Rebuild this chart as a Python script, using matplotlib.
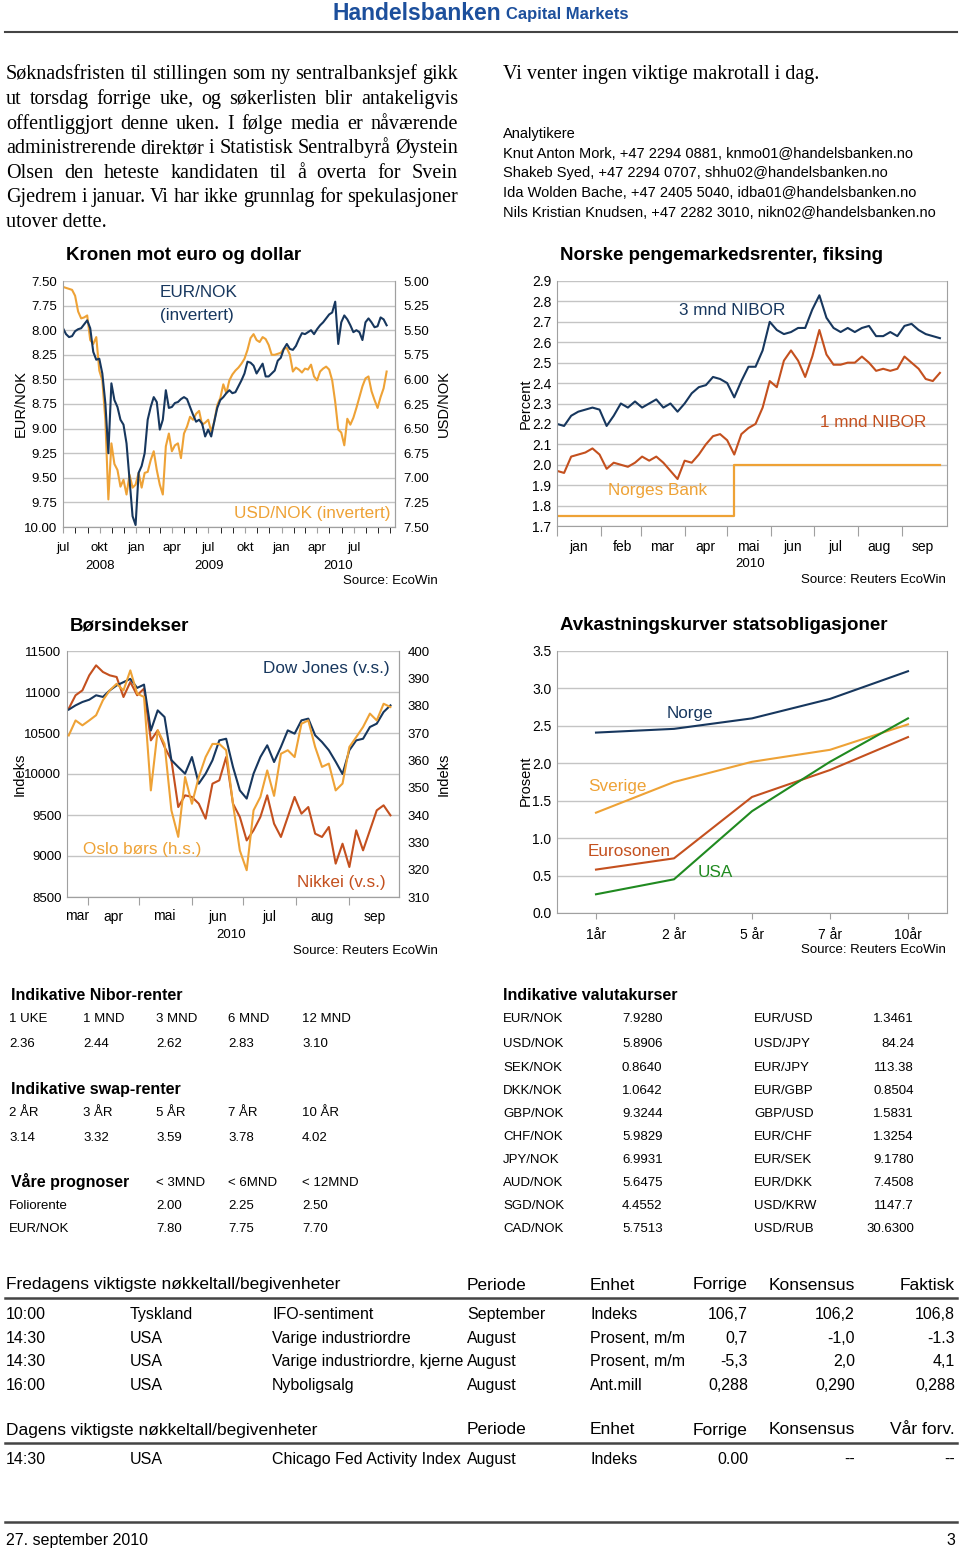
import numpy as np
import pandas as pd
import matplotlib
matplotlib.use('Agg')
import matplotlib.pyplot as plt
from matplotlib.lines import Line2D
from matplotlib.ticker import FormatStrFormatter

W, H = 960, 1550
SANS = 'Liberation Sans'
SERIF = 'Liberation Serif'
plt.rcParams['font.family'] = [SANS, 'DejaVu Sans']

NAVY = '#17375e'
ORANGE = '#eea236'
RED = '#c4501e'
GREEN = '#208a20'
BLUE = '#1c4f9c'
GRID = '#c4c4c4'
SPINE = '#a0a0a0'

# ---- chart 1: Kronen mot euro og dollar (weekly readings, jul 2008 - sep 2010) ----
eur_nok = [7.98, 8.04, 8.07, 8.06, 8.01, 7.99, 7.98, 7.94, 7.90, 7.98,
           8.22, 8.30, 8.29, 8.44, 8.74, 9.25, 8.54, 8.71, 8.78, 8.91,
           8.96, 9.15, 9.52, 9.89, 9.98, 9.45, 9.38, 9.25, 8.91, 8.78,
           8.68, 8.73, 9.01, 8.91, 8.61, 8.79, 8.78, 8.74, 8.73, 8.70,
           8.68, 8.70, 8.78, 8.86, 8.93, 8.91, 8.95, 9.08, 9.01, 9.08,
           8.93, 8.79, 8.71, 8.68, 8.64, 8.61, 8.64, 8.63, 8.57, 8.51,
           8.44, 8.32, 8.33, 8.36, 8.44, 8.39, 8.34, 8.47, 8.47, 8.44,
           8.41, 8.31, 8.28, 8.19, 8.14, 8.19, 8.20, 8.16, 8.09, 8.03,
           8.04, 8.02, 8.00, 8.04, 7.99, 7.95, 7.92, 7.88, 7.84, 7.82,
           7.71, 8.14, 7.92, 7.85, 7.89, 7.95, 8.02, 8.00, 8.02, 8.10,
           7.92, 7.88, 7.92, 7.97, 7.96, 7.87, 7.89, 7.95]
usd_nok = [5.06, 5.07, 5.08, 5.09, 5.15, 5.31, 5.38, 5.37, 5.35, 5.60,
           5.64, 5.57, 5.91, 6.01, 6.41, 7.22, 6.65, 6.86, 6.92, 7.09,
           7.02, 7.17, 6.97, 7.10, 7.07, 6.95, 7.10, 6.95, 6.94, 6.82,
           6.73, 6.92, 7.07, 7.17, 6.68, 6.55, 6.73, 6.67, 6.65, 6.80,
           6.55, 6.48, 6.38, 6.41, 6.35, 6.32, 6.46, 6.44, 6.41, 6.53,
           6.43, 6.26, 6.19, 6.05, 6.14, 6.01, 5.95, 5.91, 5.88, 5.84,
           5.79, 5.70, 5.58, 5.54, 5.60, 5.62, 5.57, 5.59, 5.65, 5.75,
           5.75, 5.74, 5.73, 5.69, 5.68, 5.75, 5.92, 5.88, 5.90, 5.93,
           5.89, 5.90, 5.85, 5.97, 6.01, 5.92, 5.89, 5.87, 5.90, 6.01,
           6.23, 6.51, 6.54, 6.67, 6.40, 6.46, 6.39, 6.29, 6.18, 6.07,
           5.99, 5.97, 6.12, 6.21, 6.29, 6.18, 6.09, 5.92]
c1_ticks = ['2008-07-01', '2008-10-01', '2009-01-01', '2009-04-01', '2009-07-01',
            '2009-10-01', '2010-01-01', '2010-04-01', '2010-07-01']
c1_labels = ['jul', 'okt', 'jan', 'apr', 'jul', 'okt', 'jan', 'apr', 'jul']

# ---- chart 2: Norske pengemarkedsrenter (every 5 days from 1 Jan 2010) ----
nibor_3m = [2.20, 2.19, 2.24, 2.26, 2.27, 2.28, 2.27, 2.19, 2.24, 2.30,
            2.28, 2.31, 2.28, 2.30, 2.32, 2.28, 2.30, 2.26, 2.30, 2.35,
            2.38, 2.39, 2.43, 2.42, 2.40, 2.33, 2.41, 2.48, 2.48, 2.56,
            2.70, 2.66, 2.64, 2.65, 2.67, 2.67, 2.76, 2.83, 2.72, 2.67,
            2.65, 2.67, 2.65, 2.67, 2.68, 2.63, 2.63, 2.65, 2.63, 2.68,
            2.69, 2.66, 2.64, 2.63, 2.62]
nibor_1m = [1.97, 1.96, 2.04, 2.05, 2.06, 2.08, 2.05, 1.98, 2.01, 2.00,
            1.99, 2.01, 2.04, 2.02, 2.04, 2.01, 1.97, 1.93, 2.02, 2.01,
            2.05, 2.10, 2.14, 2.15, 2.12, 2.05, 2.15, 2.18, 2.20, 2.28,
            2.41, 2.38, 2.51, 2.56, 2.51, 2.43, 2.53, 2.66, 2.54, 2.49,
            2.49, 2.50, 2.50, 2.53, 2.50, 2.46, 2.47, 2.46, 2.47, 2.53,
            2.50, 2.47, 2.42, 2.41, 2.45]
nb_dates = ['2010-01-01', '2010-05-06', '2010-09-28']
nb_rate = [1.75, 2.00, 2.00]
months_2010 = ['jan', 'feb', 'mar', 'apr', 'mai', 'jun', 'jul', 'aug', 'sep']

# ---- chart 3: Børsindekser (every 4 days from 21 Mar 2010) ----
dow = [10785, 10837, 10878, 10906, 10960, 10940, 11020, 11080, 11120, 11160,
       11050, 11090, 10530, 10776, 10695, 10170, 10085, 10004, 10207, 9882,
       10004, 10167, 10410, 10430, 10085, 9800, 9700, 10004, 10207, 10350,
       10146, 10330, 10532, 10492, 10654, 10675, 10472, 10390, 10290, 10150,
       10000, 10290, 10410, 10430, 10573, 10614, 10756, 10837]
oslo = [369.1, 374.6, 372.8, 374.6, 376.5, 382.0, 385.6, 388.0, 385.6, 392.9,
        384.4, 383.2, 349.0, 371.0, 366.0, 341.7, 332.0, 353.9, 344.1, 353.9,
        361.2, 366.0, 366.0, 363.7, 344.0, 327.0, 319.8, 341.7, 346.6, 356.3,
        347.0, 362.4, 363.7, 361.2, 373.4, 374.6, 364.9, 357.6, 358.8, 349.0,
        351.5, 364.9, 368.5, 372.2, 377.1, 374.6, 380.7, 379.5]
nikkei = [10797, 10960, 11020, 11203, 11325, 11244, 11203, 11183, 10939, 11122,
          10960, 11041, 10410, 10532, 10330, 10170, 9597, 9740, 9720, 9638,
          9455, 9882, 9923, 10207, 9638, 9476, 9190, 9313, 9476, 9740,
          9394, 9232, 9476, 9720, 9516, 9597, 9272, 9232, 9354, 8907,
          9150, 8866, 9313, 9069, 9313, 9557, 9618, 9496]
months_c3 = ['mar', 'apr', 'mai', 'jun', 'jul', 'aug', 'sep']

# ---- chart 4: Avkastningskurver ----
maturities = ['1år', '2 år', '5 år', '7 år', '10år']
norge = [2.41, 2.46, 2.60, 2.86, 3.23]
sverige = [1.34, 1.75, 2.02, 2.18, 2.52]
eurosonen = [0.58, 0.73, 1.55, 1.91, 2.35]
usa = [0.25, 0.45, 1.36, 2.02, 2.60]

# ---- tables ----
nibor_terms = ['1 UKE', '1 MND', '3 MND', '6 MND', '12 MND']
nibor_rates = ['2.36', '2.44', '2.62', '2.83', '3.10']
swap_terms = ['2 ÅR', '3 ÅR', '5 ÅR', '7 ÅR', '10 ÅR']
swap_rates = ['3.14', '3.32', '3.59', '3.78', '4.02']
prog_horizon = ['< 3MND', '< 6MND', '< 12MND']
prog_folio = ['2.00', '2.25', '2.50']
prog_eurnok = ['7.80', '7.75', '7.70']
fx_a = ['EUR/NOK', 'USD/NOK', 'SEK/NOK', 'DKK/NOK', 'GBP/NOK',
        'CHF/NOK', 'JPY/NOK', 'AUD/NOK', 'SGD/NOK', 'CAD/NOK']
fx_a_val = ['7.9280', '5.8906', '0.8640', '1.0642', '9.3244',
            '5.9829', '6.9931', '5.6475', '4.4552', '5.7513']
fx_b = ['EUR/USD', 'USD/JPY', 'EUR/JPY', 'EUR/GBP', 'GBP/USD',
        'EUR/CHF', 'EUR/SEK', 'EUR/DKK', 'USD/KRW', 'USD/RUB']
fx_b_val = ['1.3461', '84.24', '113.38', '0.8504', '1.5831',
            '1.3254', '9.1780', '7.4508', '1147.7', '30.6300']
fri_head = ['Fredagens viktigste nøkkeltall/begivenheter', 'Periode', 'Enhet', 'Forrige', 'Konsensus', 'Faktisk']
fri_rows = [['10:00', 'Tyskland', 'IFO-sentiment', 'September', 'Indeks', '106,7', '106,2', '106,8'],
            ['14:30', 'USA', 'Varige industriordre', 'August', 'Prosent, m/m', '0,7', '-1,0', '-1.3'],
            ['14:30', 'USA', 'Varige industriordre, kjerne', 'August', 'Prosent, m/m', '-5,3', '2,0', '4,1'],
            ['16:00', 'USA', 'Nyboligsalg', 'August', 'Ant.mill', '0,288', '0,290', '0,288']]
today_head = ['Dagens viktigste nøkkeltall/begivenheter', 'Periode', 'Enhet', 'Forrige', 'Konsensus', 'Vår forv.']
today_rows = [['14:30', 'USA', 'Chicago Fed Activity Index', 'August', 'Indeks', '0.00', '--', '--']]

body_lines = ['Søknadsfristen til stillingen som ny sentralbanksjef gikk',
              'ut torsdag forrige uke, og søkerlisten blir antakeligvis',
              'offentliggjort denne uken. I følge media er nåværende',
              'administrerende direktør i Statistisk Sentralbyrå Øystein',
              'Olsen den heteste kandidaten til å overta for Svein',
              'Gjedrem i januar. Vi har ikke grunnlag for spekulasjoner',
              'utover dette.']
analysts = ['Knut Anton Mork, +47 2294 0881, knmo01@handelsbanken.no',
            'Shakeb Syed, +47 2294 0707, shhu02@handelsbanken.no',
            'Ida Wolden Bache, +47 2405 5040, idba01@handelsbanken.no',
            'Nils Kristian Knudsen, +47 2282 3010, nikn02@handelsbanken.no']

fig = plt.figure(figsize=(W / 100, H / 100), dpi=100)
fig.patch.set_facecolor('white')


def label(x, y, s, size=10, ha='left', va='center', color='black', weight='normal',
          family=SANS, rotation=0):
    return fig.text(x / W, 1 - y / H, s, fontsize=size, ha=ha, va=va, color=color,
                    fontweight=weight, family=family, rotation=rotation)


def tlabel(x, y, s, size=10, **kw):
    # y is the visual middle of the line; put the baseline a bit below it
    return label(x, y + size * 0.44, s, size=size, va='baseline', **kw)


def hline(x0, x1, y, lw=1.5, color='#444444'):
    fig.add_artist(Line2D([x0 / W, x1 / W], [1 - y / H, 1 - y / H], lw=lw, color=color))


def add_ax(l, t, r, b):
    return fig.add_axes([l / W, 1 - b / H, (r - l) / W, (b - t) / H])


def justify(line, x0, x1, y, size, **kw):
    # spread the words of one line over the full column width
    words = line.split()
    texts = [tlabel(x0, y, w, size=size, **kw) for w in words]
    rend = fig.canvas.get_renderer()
    widths = [t.get_window_extent(rend).width for t in texts]
    gap = (x1 - x0 - sum(widths)) / (len(words) - 1)
    x = x0
    for t, w in zip(texts, widths):
        t.set_x(x / W)
        x += w + gap


def frame(ax):
    ax.spines['top'].set_visible(False)
    for s in ['left', 'right', 'bottom']:
        ax.spines[s].set_color(SPINE)
    ax.tick_params(colors=SPINE, labelcolor='black', labelsize=9.5)


# ---------------- header + text ----------------
tlabel(332, 13, 'Handelsbanken', size=16.5, weight='bold', color=BLUE)
tlabel(506, 14, 'Capital Markets', size=12, weight='bold', color=BLUE)
hline(5, 957, 32)

for i, line in enumerate(body_lines):
    y = 73 + i * 24.6
    if i == len(body_lines) - 1:
        tlabel(6, y, line, size=14.5, family=SERIF)
    else:
        justify(line, 6, 458, y, 14.5, family=SERIF)

tlabel(503, 73, 'Vi venter ingen viktige makrotall i dag.', size=14.5, family=SERIF)
tlabel(503, 133, 'Analytikere', size=10.5)
for i, a in enumerate(analysts):
    tlabel(503, 153 + i * 19.7, a, size=10.5)

# ---------------- chart 1 ----------------
label(66, 255, 'Kronen mot euro og dollar', size=13.5, weight='bold')
ax1 = add_ax(63, 281, 395, 527)
ax1r = ax1.twinx()
ax1.set_zorder(ax1r.get_zorder() + 1)
ax1.patch.set_visible(False)
d1 = pd.date_range('2008-07-01', '2010-09-22', periods=len(eur_nok))
ax1r.plot(d1, usd_nok, color=ORANGE, lw=1.5)
ax1.plot(d1, eur_nok, color=NAVY, lw=1.5)
ax1.set_ylim(10.0, 7.5)
ax1r.set_ylim(7.5, 5.0)
ax1.set_yticks(np.arange(7.5, 10.01, 0.25))
ax1r.set_yticks(np.arange(5.0, 7.51, 0.25))
ax1.yaxis.set_major_formatter(FormatStrFormatter('%.2f'))
ax1r.yaxis.set_major_formatter(FormatStrFormatter('%.2f'))
ax1r.grid(axis='y', color=GRID, lw=1)
ax1.set_xlim(pd.Timestamp('2008-07-01'), pd.Timestamp('2010-10-13'))
ax1.set_xticks(pd.to_datetime(c1_ticks))
ax1.set_xticklabels(c1_labels)
ax1.set_xticks(pd.date_range('2008-07-01', '2010-10-01', freq='MS'), minor=True)
for a in (ax1, ax1r):
    frame(a)
ax1r.spines['left'].set_visible(False)
ax1.tick_params(axis='y', length=0, pad=4)
ax1r.tick_params(axis='y', length=0, pad=6)
ax1.tick_params(axis='x', which='both', length=4, pad=7)
label(14, 404, 'EUR/NOK', size=10.5, rotation=90)
label(437, 404, 'USD/NOK', size=10.5, rotation=90)
tlabel(160, 292, 'EUR/NOK', size=12.3, color=NAVY)
tlabel(160, 315, '(invertert)', size=12.3, color=NAVY)
tlabel(234, 513, 'USD/NOK (invertert)', size=12.3, color=ORANGE)
label(100, 566, '2008', size=9.5, ha='center')
label(209, 566, '2009', size=9.5, ha='center')
label(338, 566, '2010', size=9.5, ha='center')
label(438, 581, 'Source: EcoWin', size=9.5, ha='right')

# ---------------- chart 2 ----------------
label(560, 255, 'Norske pengemarkedsrenter, fiksing', size=13.5, weight='bold')
ax2 = add_ax(557, 281, 947, 526)
d2 = pd.date_range('2010-01-01', periods=len(nibor_3m), freq='5D')
ax2.plot(pd.to_datetime(nb_dates), nb_rate, color=ORANGE, lw=1.6, drawstyle='steps-post')
ax2.plot(d2, nibor_1m, color=RED, lw=1.5)
ax2.plot(d2, nibor_3m, color=NAVY, lw=1.5)
ax2.set_ylim(1.7, 2.9)
ax2.set_yticks(np.arange(1.7, 2.91, 0.1))
ax2.yaxis.set_major_formatter(FormatStrFormatter('%.1f'))
ax2.grid(axis='y', color=GRID, lw=1)
ax2.set_xlim(pd.Timestamp('2010-01-01'), pd.Timestamp('2010-10-03'))
ax2.set_xticks(pd.date_range('2010-01-01', '2010-09-01', freq='MS'))
ax2.set_xticklabels([])
ax2.set_xticks(pd.date_range('2010-01-01', '2010-09-01', freq='MS') + pd.Timedelta(days=15), minor=True)
ax2.set_xticklabels(months_2010, minor=True)
frame(ax2)
ax2.tick_params(axis='y', length=0, pad=4, labelsize=10)
ax2.tick_params(axis='x', which='major', length=7)
ax2.tick_params(axis='x', which='minor', length=0, pad=10)
label(519, 404, 'Percent', size=10.5, rotation=90)
tlabel(679, 310, '3 mnd NIBOR', size=12.3, color=NAVY)
tlabel(820, 422, '1 mnd NIBOR', size=12.3, color=RED)
tlabel(608, 490, 'Norges Bank', size=12.3, color=ORANGE)
label(750, 564, '2010', size=9.5, ha='center')
label(946, 580, 'Source: Reuters EcoWin', size=9.5, ha='right')

# ---------------- chart 3 ----------------
label(70, 626, 'Børsindekser', size=13.5, weight='bold')
ax3 = add_ax(67, 651, 399, 897)
ax3r = ax3.twinx()
d3 = pd.date_range('2010-03-21', periods=len(dow), freq='4D')
ax3.plot(d3, nikkei, color=RED, lw=1.5)
ax3.plot(d3, dow, color=NAVY, lw=1.5)
ax3r.plot(d3, oslo, color=ORANGE, lw=1.5)
ax3.set_ylim(8500, 11500)
ax3r.set_ylim(310, 400)
ax3.set_yticks(np.arange(8500, 11501, 500))
ax3r.set_yticks(np.arange(310, 401, 10))
ax3.grid(axis='y', color=GRID, lw=1)
ax3.set_xlim(pd.Timestamp('2010-03-20'), pd.Timestamp('2010-09-30'))
ax3.set_xticks(pd.date_range('2010-04-01', '2010-09-01', freq='MS'))
ax3.set_xticklabels([])
ax3.set_xticks(pd.to_datetime(['2010-03-26']).append(
    pd.date_range('2010-04-01', '2010-09-01', freq='MS') + pd.Timedelta(days=15)), minor=True)
ax3.set_xticklabels(months_c3, minor=True)
for a in (ax3, ax3r):
    frame(a)
ax3r.spines['left'].set_visible(False)
ax3.tick_params(axis='y', length=0, pad=4)
ax3r.tick_params(axis='y', length=0, pad=6)
ax3.tick_params(axis='x', which='major', length=6)
ax3.tick_params(axis='x', which='minor', length=0, pad=9)
label(13, 774, 'Indeks', size=10.5, rotation=90)
label(437, 774, 'Indeks', size=10.5, rotation=90)
tlabel(263, 668, 'Dow Jones (v.s.)', size=12.3, color=NAVY)
tlabel(83, 849, 'Oslo børs (h.s.)', size=12.3, color=ORANGE)
tlabel(297, 882, 'Nikkei (v.s.)', size=12.3, color=RED)
label(231, 935, '2010', size=9.5, ha='center')
label(438, 951, 'Source: Reuters EcoWin', size=9.5, ha='right')

# ---------------- chart 4 ----------------
label(560, 626, 'Avkastningskurver statsobligasjoner', size=13.5, weight='bold')
ax4 = add_ax(557, 651, 947, 913)
ax4.plot(maturities, norge, color=NAVY, lw=1.5)
ax4.plot(maturities, sverige, color=ORANGE, lw=1.5)
ax4.plot(maturities, eurosonen, color=RED, lw=1.5)
ax4.plot(maturities, usa, color=GREEN, lw=1.5)
ax4.set_xlim(-0.5, 4.5)
ax4.set_ylim(0, 3.5)
ax4.set_yticks(np.arange(0, 3.51, 0.5))
ax4.yaxis.set_major_formatter(FormatStrFormatter('%.1f'))
ax4.grid(axis='y', color=GRID, lw=1)
frame(ax4)
ax4.tick_params(axis='y', length=0, pad=4, labelsize=10)
ax4.tick_params(axis='x', length=4, pad=7, labelsize=10)
label(519, 781, 'Prosent', size=10.5, rotation=90)
tlabel(667, 713, 'Norge', size=12.3, color=NAVY)
tlabel(588, 786, 'Sverige', size=12.3, color=ORANGE)
tlabel(588, 851, 'Eurosonen', size=12.3, color=RED)
tlabel(698, 872, 'USA', size=12.3, color=GREEN)
label(946, 950, 'Source: Reuters EcoWin', size=9.5, ha='right')

# ---------------- small tables ----------------
cols = [9, 83, 156, 228, 302]
tlabel(11, 995, 'Indikative Nibor-renter', size=11.5, weight='bold')
for x, a, b in zip(cols, nibor_terms, nibor_rates):
    tlabel(x, 1018, a, size=9.5)
    tlabel(x, 1043, b, size=9.5)
tlabel(11, 1089, 'Indikative swap-renter', size=11.5, weight='bold')
for x, a, b in zip(cols, swap_terms, swap_rates):
    tlabel(x, 1112, a, size=9.5)
    tlabel(x, 1137, b, size=9.5)
tlabel(11, 1182, 'Våre prognoser', size=11.5, weight='bold')
tlabel(9, 1205, 'Foliorente', size=9.5)
tlabel(9, 1228, 'EUR/NOK', size=9.5)
for x, h, f, e in zip(cols[2:], prog_horizon, prog_folio, prog_eurnok):
    tlabel(x, 1182, h, size=9.5)
    tlabel(x, 1205, f, size=9.5)
    tlabel(x, 1228, e, size=9.5)

tlabel(503, 995, 'Indikative valutakurser', size=11.5, weight='bold')
fx_y = [1018, 1043, 1067, 1090, 1113, 1136, 1159, 1182, 1205, 1228]
for y, a, av, b, bv in zip(fx_y, fx_a, fx_a_val, fx_b, fx_b_val):
    tlabel(503, y, a, size=9.5)
    tlabel(622, y, av, size=9.5)
    tlabel(754, y, b, size=9.5)
    tlabel(914, y, bv, size=9.5, ha='right')

# ---------------- event tables ----------------
ev_x = [6, 130, 272, 467, 590, 748, 855, 955]
ev_ha = ['left', 'left', 'left', 'left', 'left', 'right', 'right', 'right']


def event_table(head, rows, y0, ys):
    tlabel(6, y0, head[0], size=12.5)
    for x, h, ha in zip(ev_x[3:], head[1:], ev_ha[3:]):
        tlabel(x, y0, h, size=12.5, ha=ha)
    hline(5, 957, y0 + 14, lw=1.8)
    for y, row in zip(ys, rows):
        for x, v, ha in zip(ev_x, row, ev_ha):
            tlabel(x, y, v, size=11.5, ha=ha)


event_table(fri_head, fri_rows, 1284, [1314, 1338, 1361, 1385])
event_table(today_head, today_rows, 1429, [1459])

hline(5, 957, 1522, lw=1.8)
tlabel(6, 1540, '27. september 2010', size=11.5)
tlabel(955, 1540, '3', size=11.5, ha='right')

fig.savefig('out.png', dpi=100)
